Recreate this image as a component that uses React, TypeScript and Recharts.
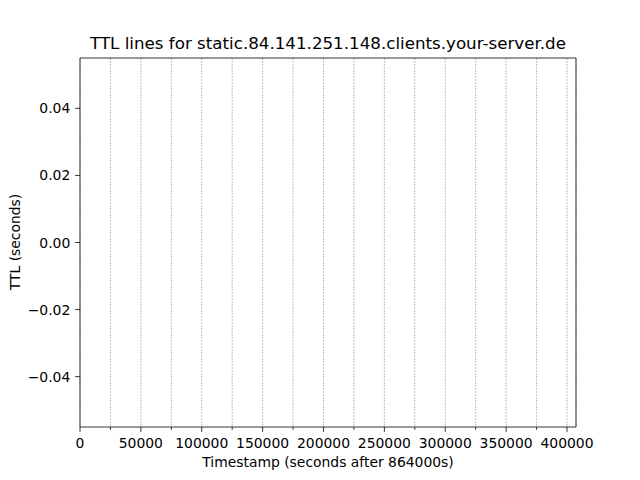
import React from "react";
import { CartesianGrid, Line, LineChart, ReferenceArea, XAxis, YAxis } from "recharts";

// no TTL records for this host, the series is empty
const timestamps: number[] = [];
const ttlValues: number[] = [];

const xTicks = [
  0, 25000, 50000, 75000, 100000, 125000, 150000, 175000, 200000, 225000, 250000,
  275000, 300000, 325000, 350000, 375000, 400000,
];
const yTicks = [-0.04, -0.02, 0, 0.02, 0.04];
const xDomain: [number, number] = [0, 407400];
const yDomain: [number, number] = [-0.055, 0.055];

const FONT = "DejaVu Sans, sans-serif";

const data = timestamps.map((t, i) => ({ t, ttl: ttlValues[i] }));

function XTick(props: any) {
  const { x, y, payload } = props;
  const major = payload.value % 50000 === 0;
  return (
    <g>
      <line x1={x} x2={x} y1={y} y2={y + (major ? 4.9 : 2.8)} stroke="#000" strokeWidth={0.8} />
      {major && (
        <text x={x} y={y + 21} textAnchor="middle" fontSize={13.9} fontFamily={FONT} fill="#000">
          {payload.value}
        </text>
      )}
    </g>
  );
}

function YTick(props: any) {
  const { x, y, payload } = props;
  const v: number = payload.value;
  const label = (v < 0 ? "\u2212" : "") + Math.abs(v).toFixed(2);
  return (
    <g>
      <line x1={x} x2={x - 4.9} y1={y} y2={y} stroke="#000" strokeWidth={0.8} />
      <text x={x - 9.7} y={y + 5} textAnchor="end" fontSize={13.9} fontFamily={FONT} fill="#000">
        {label}
      </text>
    </g>
  );
}

export default function App() {
  return (
    <div style={{ position: "absolute", left: 0, top: 0, width: 640, height: 480, background: "#fff" }}>
      <svg width={640} height={480} style={{ position: "absolute", left: 0, top: 0 }}>
        <text x={328} y={49} textAnchor="middle" fontSize={16.7} fontFamily={FONT} fill="#000">
          TTL lines for static.84.141.251.148.clients.your-server.de
        </text>
        <text x={328} y={467} textAnchor="middle" fontSize={13.9} fontFamily={FONT} fill="#000">
          Timestamp (seconds after 864000s)
        </text>
        <text
          x={20}
          y={242}
          textAnchor="middle"
          fontSize={13.9}
          fontFamily={FONT}
          fill="#000"
          transform="rotate(-90 20 242)"
        >
          TTL (seconds)
        </text>
      </svg>
      <LineChart
        width={640}
        height={480}
        data={data}
        margin={{ top: 58, right: 64, bottom: 0, left: 0 }}
        style={{ position: "absolute", left: 0, top: 0 }}
      >
        <CartesianGrid horizontal={false} stroke="#b0b0b0" strokeWidth={0.8} strokeDasharray="2 1" />
        <XAxis
          dataKey="t"
          type="number"
          domain={xDomain}
          ticks={xTicks}
          interval={0}
          height={53}
          axisLine={false}
          tickLine={false}
          tickSize={0}
          tickMargin={0}
          tick={<XTick />}
          allowDataOverflow
        />
        <YAxis
          type="number"
          domain={yDomain}
          ticks={yTicks}
          interval={0}
          width={80}
          axisLine={false}
          tickLine={false}
          tickSize={0}
          tickMargin={0}
          tick={<YTick />}
          allowDataOverflow
        />
        <ReferenceArea
          x1={xDomain[0]}
          x2={xDomain[1]}
          y1={yDomain[0]}
          y2={yDomain[1]}
          fill="none"
          stroke="#000"
          strokeWidth={0.8}
          ifOverflow="visible"
        />
        <Line dataKey="ttl" stroke="#1f77b4" dot={false} isAnimationActive={false} />
      </LineChart>
    </div>
  );
}
